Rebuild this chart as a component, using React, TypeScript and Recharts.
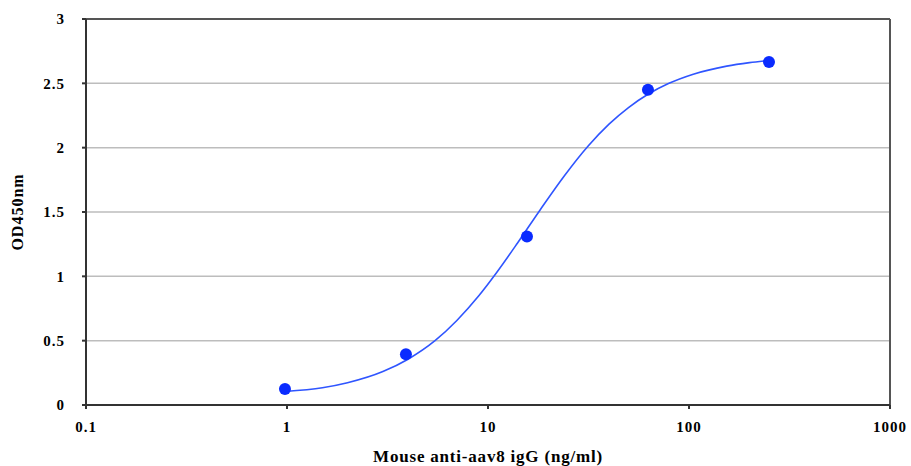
import React from 'react';
import {
  ComposedChart, Line, Scatter, XAxis, YAxis, CartesianGrid, ReferenceLine,
} from 'recharts';

// measured points (4-fold dilutions)
const pointX = [0.977, 3.906, 15.625, 62.5, 250];
const pointY = [0.125, 0.395, 1.31, 2.45, 2.665];

// fitted curve
const curveX = [0.977, 1.5, 2, 3, 4, 5.45, 7, 9, 11, 14, 18.2, 24, 31.5, 40, 50, 62.5, 79, 105, 154, 200, 250];
const curveY = [0.105, 0.134, 0.173, 0.26, 0.356, 0.5, 0.657, 0.849, 1.026, 1.257, 1.518, 1.782, 2.013, 2.183, 2.312, 2.415, 2.498, 2.571, 2.634, 2.661, 2.678];

const xTicks = [0.1, 1, 10, 100, 1000];
const yTicks = [0, 0.5, 1, 1.5, 2, 2.5, 3];

const points = pointX.map((x, i) => ({ x, y: pointY[i] }));
const curve = curveX.map((x, i) => ({ x, y: curveY[i] }));

const font = {
  fontFamily: '"Liberation Serif", "Times New Roman", serif',
  fontWeight: 700,
  fontSize: 15,
  letterSpacing: 1,
  fill: '#000',
};

const Dot = (props: any) => <circle cx={props.cx} cy={props.cy} r={6} fill="#0a2bff" />;

export default function App() {
  return (
    <div style={{ position: 'absolute', left: 0, top: 0, width: 911, height: 466, background: '#fff' }}>
      <ComposedChart width={911} height={466} margin={{ top: 19, right: 21, left: 0, bottom: 0 }}>
        <CartesianGrid vertical={false} stroke="#bdbdbd" strokeWidth={1.5} />
        <XAxis
          dataKey="x"
          type="number"
          scale="log"
          domain={[0.1, 1000]}
          ticks={xTicks}
          allowDataOverflow
          height={61}
          tickSize={4}
          tickMargin={12}
          stroke="#333"
          strokeWidth={2}
          tick={font}
          tickFormatter={(v: number) => String(v)}
          label={{ value: 'Mouse anti-aav8 igG (ng/ml)', position: 'insideBottom', offset: 4, style: { ...font, fontSize: 17, letterSpacing: 0.8 } }}
        />
        <YAxis
          type="number"
          domain={[0, 3]}
          ticks={yTicks}
          width={86}
          tickSize={4}
          tickMargin={17}
          stroke="#333"
          strokeWidth={2}
          tick={font}
          label={{ value: 'OD450nm', angle: -90, position: 'insideLeft', offset: 17, style: { ...font, fontSize: 16, textAnchor: 'middle' } }}
        />
        <ReferenceLine y={3} stroke="#555" strokeWidth={2} />
        <ReferenceLine x={1000} stroke="#555" strokeWidth={2} />
        <Line data={curve} dataKey="y" type="monotone" stroke="#2f55ff" strokeWidth={1.6} dot={false} isAnimationActive={false} />
        <Scatter data={points} dataKey="y" shape={<Dot />} isAnimationActive={false} />
      </ComposedChart>
    </div>
  );
}
